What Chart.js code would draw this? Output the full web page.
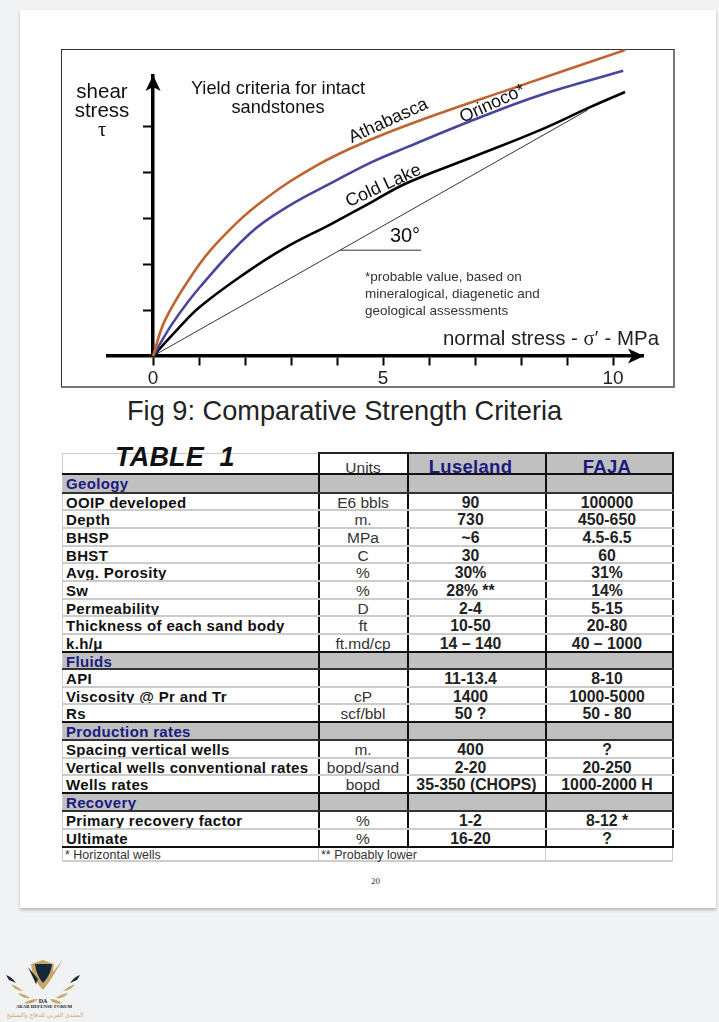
<!DOCTYPE html>
<html>
<head>
<meta charset="utf-8">
<title>Comparative Strength Criteria</title>
<script src="https://cdn.jsdelivr.net/npm/chart.js@4"></script>
<style>
  html, body { margin: 0; padding: 0; }
  body { width: 719px; height: 1022px; background: #f1f2f4; position: relative; overflow: hidden; font-family: "Liberation Sans", Arial, sans-serif; }
  #paper { position: absolute; left: 20px; top: 10px; width: 696px; height: 898px; background: #fff; box-shadow: 0 2px 3px #b5b6b8; }
  #chart-box { position: absolute; left: 61px; top: 49px; width: 614px; height: 339px; border: 1px solid #333; border-right: 2px solid #777; border-bottom: 2px solid #777; box-sizing: border-box; }
  #chart-box canvas { position: absolute; left: -1px; top: -1px; }
  .note { position: absolute; white-space: nowrap; color: #111; line-height: 1; }
  .mid { transform: translate(-50%, -50%); }
  .tilt { transform: translate(-50%, -50%) rotate(-24.6deg); }
  .serif { font-family: "Liberation Serif", serif; }
  #caption { position: absolute; left: 127px; top: 396px; font-size: 27.2px; line-height: 30px; color: #222; white-space: nowrap; }
  #table1-title { position: absolute; left: 115px; top: 442px; font-size: 27px; line-height: 30px; font-weight: bold; font-style: italic; color: #111; letter-spacing: .2px; white-space: nowrap; }
  table { position: absolute; left: 62px; top: 452px; border-collapse: collapse; table-layout: fixed; width: 610px; }
  td { padding: 0; border-bottom: 2px solid #ccc; vertical-align: top; }
  td div { overflow: hidden; white-space: nowrap; font-size: 15px; line-height: 18px; }
  td.name div { padding-left: 3px; font-weight: bold; color: #111; letter-spacing: .35px; }
  td.unit div { text-align: center; font-size: 15.5px; color: #333; }
  td.val div { text-align: center; font-size: 15.8px; line-height: 18px; font-weight: bold; color: #222; }
  td.c3 div { padding-right: 12px; }
  td.c4 div { padding-right: 4px; }
  tr.sec td { background: #c0c0c0; border-bottom: 2px solid #333; }
  tr.sec td.name div { color: #1a1a80; }
  tr.end td { border-bottom: 2px solid #111; }
  tr.head td { border-bottom: 2px solid #111; border-top: 2px solid #222; }
  tr.head td.c1 { border-top: 1px solid #ccc; }
  tr.head td.val { background: #c0c0c0; }
  tr.head td.unit div { line-height: 27px; }
  tr.head td.val div { color: #1a1a80; font-size: 18.5px; line-height: 25px; letter-spacing: .3px; }
  tr.foot td div { font-size: 12.5px; font-weight: normal; color: #333; line-height: 14px; letter-spacing: 0; text-align: left; padding-left: 2px; overflow: visible; }
  td.c1 { border-left: 1px solid #ccc; }
  td.c2, td.c3, td.c4 { border-left: 2.5px solid #111; }
  td.c4 { border-right: 2.5px solid #111; }
  tr.foot td.c2, tr.foot td.c3, tr.foot td.c4 { border-left: 1px solid #ccc; border-right: none; }
  tr.foot td.c4 { border-right: 1px solid #ccc; }
  #page-no { position: absolute; left: 371px; top: 876px; font-family: "Liberation Serif", serif; font-size: 9px; color: #333; }
  #logo { position: absolute; left: 0; top: 955px; width: 90px; height: 67px; }
  #logo-en { position: absolute; left: 4px; top: 1004px; width: 80px; text-align: center; font-family: "Liberation Serif", serif; font-weight: bold; font-size: 4.8px; color: #222; white-space: nowrap; }
  #logo-ar { position: absolute; left: 5px; top: 1011px; width: 80px; text-align: center; font-family: "DejaVu Sans", sans-serif; font-size: 6px; color: #c9a96a; white-space: nowrap; }
</style>
</head>
<body>
<div id="paper"></div>

<div id="chart-box">
  <canvas id="strengthChart" width="595" height="339"></canvas>
</div>

<!-- labels over the chart -->
<div class="note mid" style="left:102px;top:91px;font-size:20.5px">shear</div>
<div class="note mid" style="left:102px;top:110px;font-size:20.5px">stress</div>
<div class="note mid serif" style="left:102px;top:129px;font-size:20.5px">τ</div>
<div class="note mid" style="left:278px;top:88px;font-size:18.2px">Yield criteria for intact</div>
<div class="note mid" style="left:278px;top:107px;font-size:18.2px">sandstones</div>
<div class="note tilt" style="left:388px;top:120px;font-size:18px">Athabasca</div>
<div class="note tilt" style="left:492px;top:103px;font-size:18px">Orinoco*</div>
<div class="note tilt" style="left:383px;top:185px;font-size:18px">Cold Lake</div>
<div class="note mid" style="left:405px;top:235px;font-size:20px">30°</div>
<div class="note" style="left:365px;top:270px;font-size:13.5px;color:#333">*probable value, based on</div>
<div class="note" style="left:365px;top:287px;font-size:13.5px;color:#333">mineralogical, diagenetic and</div>
<div class="note" style="left:365px;top:304px;font-size:13.5px;color:#333">geological assessments</div>
<div class="note" style="left:443px;top:328px;font-size:20.4px;color:#222">normal stress - <span class="serif">σ′</span> - MPa</div>

<div id="caption">Fig 9: Comparative Strength Criteria</div>

<table id="table1"></table>
<div id="table1-title">TABLE&nbsp; 1</div>

<div id="page-no">20</div>

<svg id="logo" viewBox="0 0 90 67">
  <path d="M43 5 L31 9 Q32 24 43 35 Q52 24 63 4 L53 17 L54 9 Z" fill="#c7a767"/>
  <path d="M35 9 L52 9 Q51 20 43 28 Q36 20 35 9 Z" fill="#15293a"/>
  <path d="M28 12 L38 24 L36 29 Z M6 20 Q12 22 16 28 L9 25 Z M80 20 Q74 22 70 28 L77 25 Z" fill="#1d2730"/>
  <path d="M11 29 Q17 31 23 36 Q15 36 11 29 Z M75 29 Q69 31 63 36 Q71 36 75 29 Z M18 38 Q25 39 30 43 Q22 44 18 38 Z M68 38 Q61 39 56 43 Q64 44 68 38 Z M24 48 Q30 44 38 44 Q32 50 24 48 Z M62 48 Q56 44 50 44 Q54 50 62 48 Z" fill="#c7a767"/>
  <text x="43" y="48" text-anchor="middle" font-family="Liberation Serif" font-weight="bold" font-size="6" fill="#222">DA</text>
</svg>
<div id="logo-en">ARAB DEFENSE FORUM</div>
<div id="logo-ar">المنتدى العربي للدفاع والتسليح</div>

<script>
// Curves (x = normal stress, y = shear stress)
const athabascaX = [0, 0.26, 0.87, 1.39, 2.33, 3.57, 4.72, 6.02, 7.70, 10.26];
const athabascaY = [0, 0.78, 1.80, 2.46, 3.33, 4.15, 4.70, 5.20, 5.78, 6.65];
const orinocoX = [0, 0.43, 1.02, 2.11, 2.98, 3.91, 4.72, 5.52, 6.96, 8.41, 10.22];
const orinocoY = [0, 0.72, 1.50, 2.67, 3.28, 3.78, 4.20, 4.54, 5.13, 5.67, 6.20];
const coldLakeX = [0, 0.52, 1.02, 1.96, 2.83, 3.91, 4.72, 5.52, 6.96, 8.41, 9.50, 10.26];
const coldLakeY = [0, 0.57, 1.07, 1.77, 2.33, 2.89, 3.33, 3.76, 4.33, 4.91, 5.41, 5.74];
const lineX = [0, 9.45];
const lineY = [0, 5.35];
const baseX = [4.07, 5.83];
const baseY = [2.30, 2.30];

const xTicks = [0, 1, 2, 3, 4, 5, 6, 7, 8, 9, 10];
const xTickLabels = { 0: '0', 5: '5', 10: '10' };
const yTicks = [1, 2, 3, 4, 5];

// Table 1
const tableHead = ['', 'Units', 'Luseland', 'FAJA'];
const tableRows = [
  ['Geology'],
  ['OOIP developed', 'E6 bbls', '90', '100000'],
  ['Depth', 'm.', '730', '450-650'],
  ['BHSP', 'MPa', '~6', '4.5-6.5'],
  ['BHST', 'C', '30', '60'],
  ['Avg. Porosity', '%', '30%', '31%'],
  ['Sw', '%', '28% **', '14%'],
  ['Permeability', 'D', '2-4', '5-15'],
  ['Thickness of each sand body', 'ft', '10-50', '20-80'],
  ['k.h/μ', 'ft.md/cp', '14 – 140', '40 – 1000'],
  ['Fluids'],
  ['API', '', '11-13.4', '8-10'],
  ['Viscosity @ Pr and Tr', 'cP', '1400', '1000-5000'],
  ['Rs', 'scf/bbl', '50 ?', '50 - 80'],
  ['Production rates'],
  ['Spacing vertical wells', 'm.', '400', '?'],
  ['Vertical wells conventional rates', 'bopd/sand', '2-20', '20-250'],
  ['Wells rates', 'bopd', '35-350 (CHOPS)', '1000-2000 H'],
  ['Recovery'],
  ['Primary recovery factor', '%', '1-2', '8-12 *'],
  ['Ultimate', '%', '16-20', '?']
];
const tableFoot = ['* Horizontal wells', '** Probably lower', '', ''];

// table layout, px
const colWidths = [256, 89, 138, 127];
const rowHeights = [19, 17, 18, 18, 17, 18, 18, 17, 18, 18, 17, 18, 17, 18, 18, 18, 17, 18, 18, 18, 18];

function zip(xs, ys) {
  return xs.map((x, i) => ({ x: x, y: ys[i] }));
}

function buildTable() {
  const table = document.getElementById('table1');
  const kinds = ['name', 'unit', 'val', 'val'];
  const colgroup = document.createElement('colgroup');
  colWidths.forEach(w => {
    const col = document.createElement('col');
    col.style.width = w + 'px';
    colgroup.appendChild(col);
  });
  table.appendChild(colgroup);

  function addRow(cells, cls, height) {
    const tr = document.createElement('tr');
    tr.className = cls;
    for (let i = 0; i < 4; i++) {
      const td = document.createElement('td');
      td.className = kinds[i] + ' c' + (i + 1);
      const div = document.createElement('div');
      div.style.height = height + 'px';
      div.textContent = cells[i] || '';
      // this one fills its cell and sits centred in it
      if (cells[i] && cells[i].includes('CHOPS')) div.style.paddingRight = '0';
      td.appendChild(div);
      tr.appendChild(td);
    }
    table.appendChild(tr);
  }

  addRow(tableHead, 'head', 19);
  tableRows.forEach((row, i) => {
    const last = i === tableRows.length - 1;
    const nextIsSection = tableRows[i + 1] && tableRows[i + 1].length === 1;
    let cls = row.length === 1 ? 'sec' : '';
    if (last || nextIsSection) cls += ' end';
    addRow(row, cls, rowHeights[i] - 2);
  });
  addRow(tableFoot, 'foot', 12);
}
buildTable();

// Arrowheads at the ends of both axes
const axisArrows = {
  id: 'axisArrows',
  afterDraw(chart) {
    const { ctx, scales: { x, y } } = chart;
    const x0 = x.getPixelForValue(0);
    const y0 = y.getPixelForValue(0);
    ctx.save();
    ctx.fillStyle = '#000';
    ctx.beginPath();
    ctx.moveTo(x0, y.top - 1);
    ctx.lineTo(x0 + 7.5, y.top + 15);
    ctx.lineTo(x0, y.top + 11);
    ctx.lineTo(x0 - 7.5, y.top + 15);
    ctx.closePath();
    ctx.fill();
    ctx.beginPath();
    ctx.moveTo(x.right + 1, y0);
    ctx.lineTo(x.right - 15, y0 - 7.5);
    ctx.lineTo(x.right - 11, y0);
    ctx.lineTo(x.right - 15, y0 + 7.5);
    ctx.closePath();
    ctx.fill();
    ctx.restore();
  }
};

const curveStyle = { borderWidth: 2.6, pointRadius: 0, tension: 0.4, clip: false, fill: false };
const thinStyle = { borderWidth: 1, pointRadius: 0, borderColor: '#333', clip: false, fill: false };

new Chart(document.getElementById('strengthChart').getContext('2d'), {
  type: 'line',
  data: {
    datasets: [
      { label: 'Athabasca', data: zip(athabascaX, athabascaY), borderColor: '#bf6430', ...curveStyle },
      { label: 'Orinoco', data: zip(orinocoX, orinocoY), borderColor: '#46469c', ...curveStyle },
      { label: 'Cold Lake', data: zip(coldLakeX, coldLakeY), borderColor: '#000', ...curveStyle },
      { label: '30 deg', data: zip(lineX, lineY), ...thinStyle },
      { label: 'base', data: zip(baseX, baseY), ...thinStyle }
    ]
  },
  options: {
    responsive: false,
    animation: false,
    layout: { padding: { left: 47, right: 13, top: 27, bottom: 32 } },
    plugins: { legend: { display: false }, tooltip: { enabled: false } },
    scales: {
      x: {
        type: 'linear',
        min: -0.98,
        max: 10.65,
        position: { y: 0 },
        afterBuildTicks: axis => { axis.ticks = xTicks.map(v => ({ value: v })); },
        grid: { drawOnChartArea: false, drawTicks: true, tickLength: 8, tickWidth: 2, tickColor: '#000' },
        border: { display: true, color: '#000', width: 3.5 },
        ticks: {
          autoSkip: false,
          maxRotation: 0,
          padding: 3,
          color: '#222',
          font: { family: '"Liberation Sans", Arial, sans-serif', size: 19 },
          callback: v => xTickLabels[v] || ''
        }
      },
      y: {
        type: 'linear',
        min: 0,
        max: 6.087,
        position: { x: 0 },
        afterBuildTicks: axis => { axis.ticks = yTicks.map(v => ({ value: v })); },
        grid: { drawOnChartArea: false, drawTicks: true, tickLength: 8, tickWidth: 2, tickColor: '#000' },
        border: { display: true, color: '#000', width: 3.5 },
        ticks: { display: true, callback: () => '' }
      }
    }
  },
  plugins: [axisArrows]
});
</script>
</body>
</html>
